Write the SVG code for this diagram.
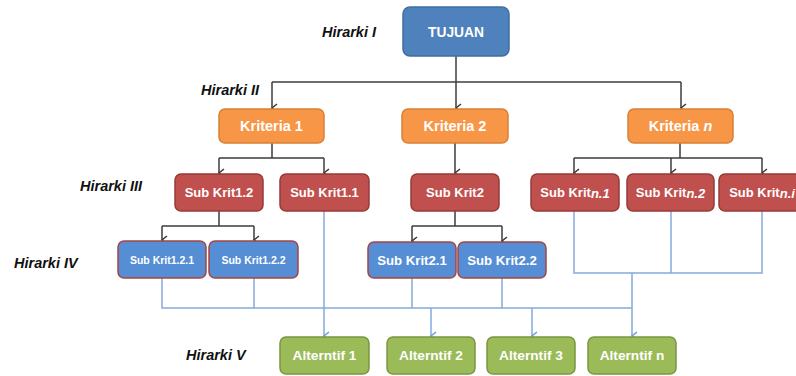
<svg xmlns="http://www.w3.org/2000/svg" width="796" height="376" viewBox="0 0 796 376">
<style>
.box{stroke-width:1.5}
.goal{fill:#4f81bd;stroke:#3f6e9f}
.krit{fill:#f79646;stroke:#d98034}
.sub{fill:#c0504d;stroke:#943b39}
.sub4{fill:#558ed5;stroke:#a84442}
.alt{fill:#9bbb59;stroke:#7a9640}
.t{font-family:"Liberation Sans",Arial,sans-serif;font-weight:bold;fill:#ffffff;text-anchor:middle;dominant-baseline:central}
.lbl{font-family:"Liberation Sans",Arial,sans-serif;font-weight:bold;font-style:italic;font-size:14.5px;fill:#111111;dominant-baseline:central}
.blk{fill:none;stroke:#3c3c3c;stroke-width:1.5}
.blu{fill:none;stroke:#86aadc;stroke-width:1.5}
</style>
<defs>
<marker id="ab" markerUnits="userSpaceOnUse" markerWidth="12" markerHeight="10" refX="5" refY="8" orient="auto-start-reverse" viewBox="0 0 10 10">
<path d="M1,3 L5,8 L9,3" fill="none" stroke="#3c3c3c" stroke-width="1.6"/>
</marker>
<marker id="aw" markerUnits="userSpaceOnUse" markerWidth="12" markerHeight="10" refX="5" refY="8" orient="auto-start-reverse" viewBox="0 0 10 10">
<path d="M1,3 L5,8 L9,3" fill="none" stroke="#6f9bd8" stroke-width="1.6"/>
</marker>
</defs>
<rect width="796" height="376" fill="#ffffff"/>

<g id="labels">
<text class="lbl" x="322" y="32">Hirarki I</text>
<text class="lbl" x="201" y="90">Hirarki II</text>
<text class="lbl" x="80" y="186">Hirarki III</text>
<text class="lbl" x="14" y="263">Hirarki IV</text>
<text class="lbl" x="186" y="355">Hirarki V</text>
</g>

<g id="connectors">
<path class="blk" d="M456,56 V108" marker-end="url(#ab)"/>
<path class="blk" d="M272,82 H681"/>
<path class="blk" d="M272,82 V108" marker-end="url(#ab)"/>
<path class="blk" d="M681,82 V108" marker-end="url(#ab)"/>
<path class="blk" d="M272,143 V158 M219,158 H324"/>
<path class="blk" d="M219,158 V173" marker-end="url(#ab)"/>
<path class="blk" d="M324,158 V173" marker-end="url(#ab)"/>
<path class="blk" d="M455,143 V173" marker-end="url(#ab)"/>
<path class="blk" d="M680,143 V158 M574,158 H762"/>
<path class="blk" d="M574,158 V173" marker-end="url(#ab)"/>
<path class="blk" d="M671,158 V173" marker-end="url(#ab)"/>
<path class="blk" d="M762,158 V173" marker-end="url(#ab)"/>
<path class="blk" d="M219,211 V226 M162,226 H254"/>
<path class="blk" d="M162,226 V240" marker-end="url(#ab)"/>
<path class="blk" d="M254,226 V240" marker-end="url(#ab)"/>
<path class="blk" d="M455,211 V226 M412,226 H502"/>
<path class="blk" d="M412,226 V241" marker-end="url(#ab)"/>
<path class="blk" d="M502,226 V241" marker-end="url(#ab)"/>

<path class="blu" d="M162,278 V308 H632"/>
<path class="blu" d="M254,278 V308 M412,278 V308 M502,278 V308"/>
<path class="blu" d="M324,211 V336" marker-end="url(#aw)"/>
<path class="blu" d="M574,211 V273 H762 V211 M671,211 V273"/>
<path class="blu" d="M632,273 V336" stroke-width="2" marker-end="url(#aw)"/>
<path class="blu" d="M431,308 V336" marker-end="url(#aw)"/>
<path class="blu" d="M532,308 V336" marker-end="url(#aw)"/>
</g>

<g id="tujuan"><rect class="box goal" x="403" y="7" width="106" height="49" rx="7"/><text class="t" x="456" y="32" font-size="13.8">TUJUAN</text></g>

<g id="kriteria1"><rect class="box krit" x="219" y="109" width="105" height="34" rx="6"/><text class="t" x="271.5" y="126" font-size="14.5">Kriteria 1</text></g>
<g id="kriteria2"><rect class="box krit" x="402" y="109" width="106" height="34" rx="6"/><text class="t" x="455" y="126" font-size="14.5">Kriteria 2</text></g>
<g id="kriterian"><rect class="box krit" x="628" y="109" width="105" height="34" rx="6"/><text class="t" x="680.5" y="126" font-size="14.5">Kriteria <tspan font-style="italic">n</tspan></text></g>

<g id="subkrit12"><rect class="box sub" x="175" y="174" width="88" height="37" rx="6"/><text class="t" x="219" y="192.5" font-size="13">Sub Krit1.2</text></g>
<g id="subkrit11"><rect class="box sub" x="280" y="174" width="89" height="37" rx="6"/><text class="t" x="324.5" y="192.5" font-size="13">Sub Krit1.1</text></g>
<g id="subkrit2"><rect class="box sub" x="411" y="174" width="88" height="37" rx="6"/><text class="t" x="455" y="192.5" font-size="13">Sub Krit2</text></g>
<g id="subkritn1"><rect class="box sub" x="531" y="174" width="88" height="37" rx="6"/><text class="t" x="575" y="192.5" font-size="13">Sub Krit<tspan font-style="italic">n.1</tspan></text></g>
<g id="subkritn2"><rect class="box sub" x="627" y="174" width="87" height="37" rx="6"/><text class="t" x="670.5" y="192.5" font-size="13">Sub Krit<tspan font-style="italic">n.2</tspan></text></g>
<g id="subkritni"><rect class="box sub" x="719" y="174" width="86" height="37" rx="6"/><text class="t" x="762" y="192.5" font-size="13">Sub Krit<tspan font-style="italic">n.i</tspan></text></g>

<g id="subkrit121"><rect class="box sub4" x="118" y="241" width="88" height="37" rx="6"/><text class="t" x="162" y="259.5" font-size="10.5">Sub Krit1.2.1</text></g>
<g id="subkrit122"><rect class="box sub4" x="209" y="241" width="89" height="37" rx="6"/><text class="t" x="253.5" y="259.5" font-size="10.5">Sub Krit1.2.2</text></g>
<g id="subkrit21"><rect class="box sub4" x="368" y="242" width="88" height="36" rx="6"/><text class="t" x="412" y="260" font-size="13.2">Sub Krit2.1</text></g>
<g id="subkrit22"><rect class="box sub4" x="458" y="242" width="88" height="36" rx="6"/><text class="t" x="502" y="260" font-size="13.2">Sub Krit2.2</text></g>

<g id="alt1"><rect class="box alt" x="280" y="337" width="89" height="37" rx="6"/><text class="t" x="324.5" y="355.5" font-size="13.7">Alterntif 1</text></g>
<g id="alt2"><rect class="box alt" x="387" y="337" width="88" height="37" rx="6"/><text class="t" x="431" y="355.5" font-size="13.7">Alterntif 2</text></g>
<g id="alt3"><rect class="box alt" x="487" y="337" width="88" height="37" rx="6"/><text class="t" x="531" y="355.5" font-size="13.7">Alterntif 3</text></g>
<g id="altn"><rect class="box alt" x="588" y="337" width="88" height="37" rx="6"/><text class="t" x="632" y="355.5" font-size="13.7">Alterntif n</text></g>
</svg>
